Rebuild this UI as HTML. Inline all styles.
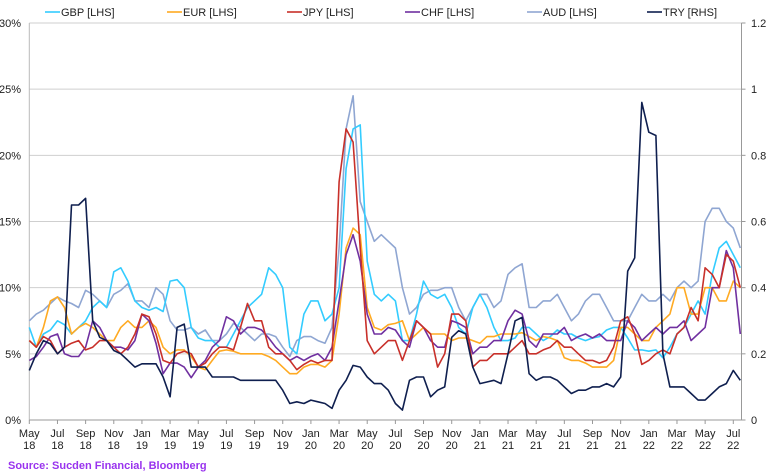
<!DOCTYPE html>
<html><head><meta charset="utf-8"><style>
html,body{margin:0;padding:0;background:#fff;}
svg{display:block;font-family:"Liberation Sans",Arial,sans-serif;}
</style></head><body>
<svg id="chart" width="770" height="474" viewBox="0 0 770 474" xmlns="http://www.w3.org/2000/svg">
<g id="grid"></g>
<g id="axes"></g>
<g id="series"></g>
<g id="legend"></g>
<text x="8" y="469" font-size="11" font-weight="bold" fill="#9933ee">Source: Sucden Financial, Bloomberg</text>
</svg>
<script>
const xLabels = ["May","Jul","Sep","Nov","Jan","Mar","May","Jul","Sep","Nov","Jan","Mar","May","Jul","Sep","Nov","Jan","Mar","May","Jul","Sep","Nov","Jan","Mar","May","Jul"];
const xYears = ["18","18","18","18","19","19","19","19","19","19","20","20","20","20","20","20","21","21","21","21","21","21","22","22","22","22"];
const leftTicks = [0,5,10,15,20,25,30];
const rightTicks = ["0","0.2","0.4","0.6","0.8","1","1.2"];
const gbp = [7,5.5, 6.5,6.8, 7.5,7.2, 6.5,7, 7.5,8.5, 9,8.5, 11.2,11.5, 10.5,9, 8.5,8.3, 8.5,8.2, 10.5,10.6, 10,7, 6.2,6, 6,5.5, 5.5,6.5, 7.5,8.5, 9,9.5, 11.5,11, 10,5.5, 5,8, 9,9, 7.5,8, 10,19, 22,22.3, 12,9.5, 9,9.5, 9,6, 6,8, 10.5,9.5, 9.2,9.5, 8.5,7, 6.5,8.5, 9.5,8.5, 7,6, 6,6.2, 7,7, 6.5,6, 6.3,6.8, 6.5,6.5, 6.2,6, 6.2,6.3, 6.8,7, 7,6.2, 5.3,5.3, 5.2,5.3, 4.7,5.5, 6.5,7, 8,9, 8,11, 13,13.5, 12.5,11.5];
const eur = [6,5.5, 7,9, 9.3,8.5, 6.5,7, 7.3,7, 6.5,6, 6,7, 7.5,7, 7,7.5, 7,5.5, 5,5.3, 5.3,4.8, 4,3.8, 4.5,5.2, 5.3,5.2, 5,5, 5,5, 4.8,4.5, 4,3.5, 3.5,4, 4.2,4.2, 4,4.5, 8,13, 14.5,14, 8.5,7, 6.8,7.2, 7.3,7.5, 6,6.5, 7,6.5, 6.5,6.5, 6,6.2, 6.2,6, 5.8,6.3, 6.3,6.5, 6.5,6.5, 6.6,6.3, 6,6.3, 6.2,6, 4.7,4.5, 4.5,4.3, 4,4, 4,4.5, 7,7, 6.5,6, 6,7, 7.5,8, 10,10, 8,8, 10,10, 9,9, 10.5,10];
const jpy = [6,5.5, 6.3,6, 5,5.5, 5.8,6, 5.3,5.5, 6,6, 5.5,5, 5.5,6.5, 8,7.8, 6.5,4.5, 4.3,5, 5.2,5, 4,4.3, 5,5.5, 5.5,5.3, 7,8.8, 7.5,7.5, 5.5,5, 5,4.5, 3.8,4.2, 4.5,4.3, 4.5,4.5, 18,22, 21,13, 6,5, 5.5,6, 6,4.5, 6,7.5, 7,6.5, 4,5, 8,8, 7.5,4, 4.5,4.5, 5,5, 5,5.5, 6,5, 5,5.3, 5.5,6, 5.5,5.5, 5,4.5, 4.5,4.3, 4.5,5.5, 7.5,7.8, 6.5,4.2, 4.5,5, 5.3,5, 6.5,7, 8.5,7.5, 11.5,11, 10,12.5, 12,10];
const chf = [4.5,4.8, 5.5,6.3, 6.5,5, 4.8,4.8, 5.5,7.5, 7,6, 5.5,5.5, 5.3,6, 8,7.5, 5.8,3.5, 4.3,4.3, 4,3.2, 4,4.5, 5.5,6, 7.8,7.5, 6.5,7, 7,6.8, 6.2,5.5, 5,4.5, 4.8,4.5, 4.8,5, 4.5,5.5, 9,12.5, 14,12, 8,6.5, 6.5,7, 6.8,6, 5.5,7.5, 7,6, 5.5,5.5, 7.5,7.3, 7,5, 5.5,5.5, 6,6, 7.5,8.3, 8,6, 5.5,6.5, 6.5,6.5, 7,6, 6.3,6.5, 6.2,6.5, 6,6, 6,7.5, 7,6, 6.5,7, 6.5,7, 7,7.5, 6,6.5, 7,10, 10,12.8, 11.5,6.5];
const aud = [7.5,8, 8.3,8.8, 9.3,9, 8.8,8.5, 9.8,9.5, 9,8.5, 9.5,9.8, 10.3,9, 9,8.5, 10,9.5, 7.5,6.8, 6.8,7, 6.5,6.8, 6,6, 6.5,7.3, 7,6.5, 6,6.5, 6.5,6.3, 5.5,4.8, 6,6.3, 6.3,6, 5.8,7, 13,22, 24.5,16.5, 15,13.5, 14,13.5, 13,10, 8,8.5, 9.5,9.8, 9.8,10, 10,8.5, 7.5,8.5, 9.5,9.5, 8.5,9, 11,11.5, 11.8,8.5, 8.5,9, 9,9.5, 8.5,7.5, 8,9, 9.5,9.5, 8.5,7.5, 7.5,7.5, 8.5,9.5, 9,9, 9.5,9, 10,10.5, 10,10.5, 15,16, 16,15, 14.5,13];
const tryRhs = [0.15,0.2, 0.24,0.23, 0.2,0.22, 0.65,0.65, 0.67,0.3, 0.25,0.24, 0.21,0.2, 0.18,0.16, 0.17,0.17, 0.17,0.13, 0.07,0.28, 0.29,0.16, 0.16,0.16, 0.13,0.13, 0.13,0.13, 0.12,0.12, 0.12,0.12, 0.12,0.12, 0.09,0.05, 0.055,0.05, 0.06,0.055, 0.05,0.035, 0.09,0.12, 0.165,0.16, 0.13,0.11, 0.11,0.09, 0.05,0.03, 0.12,0.13, 0.13,0.07, 0.09,0.1, 0.25,0.27, 0.26,0.16, 0.11,0.115, 0.12,0.11, 0.2,0.3, 0.31,0.14, 0.12,0.13, 0.13,0.12, 0.1,0.08, 0.09,0.09, 0.1,0.1, 0.11,0.1, 0.13,0.45, 0.49,0.96, 0.87,0.86, 0.2,0.1, 0.1,0.1, 0.08,0.06, 0.06,0.08, 0.1,0.11, 0.15,0.12];

const NS="http://www.w3.org/2000/svg";
const L=29.3, R=741.5, T=23, B=420, MPX=14.08;
const xOf = t => L + t*MPX;
const yL = v => B - (B-T)*v/30;
const yR = v => B - (B-T)*v/1.2;
function mk(tag, attrs, parent){const e=document.createElementNS(NS,tag);for(const k in attrs)e.setAttribute(k,attrs[k]);parent.appendChild(e);return e;}
const grid=document.getElementById('grid'), axes=document.getElementById('axes'), ser=document.getElementById('series'), leg=document.getElementById('legend');

leftTicks.forEach((v,i)=>{
  const y=yL(v);
  if(v>0){const g=mk('line',{x1:L,x2:R,y1:y,y2:y,stroke:'#cfcfcf','stroke-width':1},grid);
  
  }
  const t=mk('text',{x:21,y:y+4,'font-size':11,'text-anchor':'end',fill:'#222'},axes);
  t.textContent=v+'%';
  
  
  const t2=mk('text',{x:751,y:y+4,'font-size':11,fill:'#222'},axes);
  t2.textContent=rightTicks[i];
  
  
  const tk=mk('line',{x1:R,x2:R+4,y1:y,y2:y,stroke:'#999'},axes);
  
  
});
const la=mk('line',{x1:L,x2:L,y1:T,y2:B,stroke:'#bbb'},axes);


const ra=mk('line',{x1:R,x2:R,y1:T,y2:B,stroke:'#999'},axes);


const xa=mk('line',{x1:L,x2:R,y1:B,y2:B,stroke:'#999'},axes);


xLabels.forEach((m,i)=>{
  const x=xOf(i*2);
  const tk=mk('line',{x1:x,x2:x,y1:B,y2:B+4,stroke:'#999'},axes);
  
  
  const t=mk('text',{x:x,y:437,'font-size':11,'text-anchor':'middle',fill:'#222'},axes);
  t.textContent=m;
  
  
  const t2=mk('text',{x:x,y:449,'font-size':11,'text-anchor':'middle',fill:'#222'},axes);
  t2.textContent=xYears[i];
  
  
});
const seriesDefs=[
 {name:'AUD [LHS]',data:aud,color:'#8fa6d2',rhs:false,lx:527,id:'aud'},
 {name:'GBP [LHS]',data:gbp,color:'#33ccff',rhs:false,lx:45,id:'gbp'},
 {name:'EUR [LHS]',data:eur,color:'#ffaa22',rhs:false,lx:167,id:'eur'},
 {name:'CHF [LHS]',data:chf,color:'#7030a0',rhs:false,lx:405,id:'chf'},
 {name:'JPY [LHS]',data:jpy,color:'#c8302a',rhs:false,lx:287,id:'jpy'},
 {name:'TRY [RHS]',data:tryRhs,color:'#0f1f4f',rhs:true,lx:647,id:'try'}
];
seriesDefs.forEach(s=>{
  const pts=s.data.map((v,i)=>xOf(i*0.5).toFixed(1)+','+(s.rhs?yR(v):yL(v)).toFixed(1)).join(' ');
  const p=mk('polyline',{points:pts,fill:'none',stroke:s.color,'stroke-width':1.6,'stroke-linejoin':'round'},ser);
  
  
  const ll=mk('line',{x1:s.lx,x2:s.lx+15,y1:12,y2:12,stroke:s.color,'stroke-width':1.6},leg);
  
  
  const lt=mk('text',{x:s.lx+16,y:16,'font-size':11,fill:'#222'},leg);
  lt.textContent=s.name;
  
  
});
</script>
</body></html>
